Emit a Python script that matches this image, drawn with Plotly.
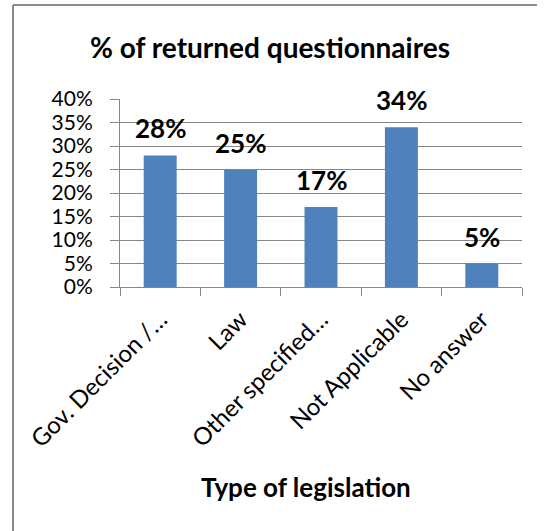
import plotly.graph_objects as go

categories = ["Gov. Decision /…", "Law", "Other specified…", "Not Applicable", "No answer"]
values = [0.28, 0.25, 0.17, 0.34, 0.05]
labels = ["28%", "25%", "17%", "34%", "5%"]
y_ticks = [0, 0.05, 0.10, 0.15, 0.20, 0.25, 0.30, 0.35, 0.40]
y_tick_text = ["0%", "5%", "10%", "15%", "20%", "25%", "30%", "35%", "40%"]

FONT = "Lato"
GRID = "#868686"

# plot area in page pixels
PL, PR, PT, PB = 120, 522, 99, 287
W, H = 547, 531
PW, PH = PR - PL, PB - PT

fig = go.Figure()
fig.add_trace(go.Bar(
    x=categories, y=values,
    marker=dict(color="#4F81BD", line=dict(width=0)),
    width=0.41,
    hoverinfo="skip",
))

for c, v, t in zip(categories, values, labels):
    fig.add_annotation(x=c, y=v, text=t, showarrow=False,
                       yanchor="middle", yshift=27,
                       font=dict(family=FONT, size=26, color="black", weight="bold"))

fig.add_annotation(xref="paper", yref="paper", x=(306 - PL) / PW, y=(PB - 487) / PH,
                   text="<b>Type of legislation</b>", showarrow=False,
                   xanchor="center", yanchor="middle",
                   font=dict(family=FONT, size=26, color="black"))

fig.update_layout(
    width=W, height=H,
    margin=dict(l=PL, r=W - PR, t=PT, b=H - PB, autoexpand=False),
    paper_bgcolor="white", plot_bgcolor="white",
    showlegend=False,
    font=dict(family=FONT, size=20, color="black"),
    title=dict(text="<b>% of returned questionnaires</b>", x=270 / W, xanchor="center",
               y=1 - 48 / H, yanchor="middle", yref="container",
               font=dict(family=FONT, size=28, color="black")),
    xaxis=dict(
        tickangle=-45, tickson="boundaries", ticks="outside", ticklen=8,
        tickcolor=GRID, showline=True, linecolor=GRID, linewidth=1,
        showgrid=False, automargin=False,
        ticklabelstandoff=8,
        tickfont=dict(family=FONT, size=24, color="black"),
    ),
    yaxis=dict(
        range=[0, 0.40], tickvals=y_ticks, ticktext=y_tick_text,
        showgrid=True, gridcolor=GRID, gridwidth=1,
        ticks="outside", ticklen=9, tickcolor=GRID,
        showline=True, linecolor=GRID, linewidth=1,
        zeroline=False, automargin=False,
        ticklabelstandoff=13,
        tickfont=dict(family=FONT, size=21, color="black"),
    ),
)

# frame lines (left and top) of the chart area
fig.add_shape(type="line", xref="paper", yref="paper",
              x0=(13 - PL) / PW, x1=(13 - PL) / PW,
              y0=(PB - H - 5) / PH, y1=(PB - 5) / PH,
              line=dict(color="#8c8c8c", width=2))
fig.add_shape(type="line", xref="paper", yref="paper",
              x0=(13 - PL) / PW, x1=(537 - PL) / PW,
              y0=(PB - 5) / PH, y1=(PB - 5) / PH,
              line=dict(color="#8c8c8c", width=2))

fig.write_html("out.html", config={"displayModeBar": False},
               post_script="document.body.style.margin='0';")
